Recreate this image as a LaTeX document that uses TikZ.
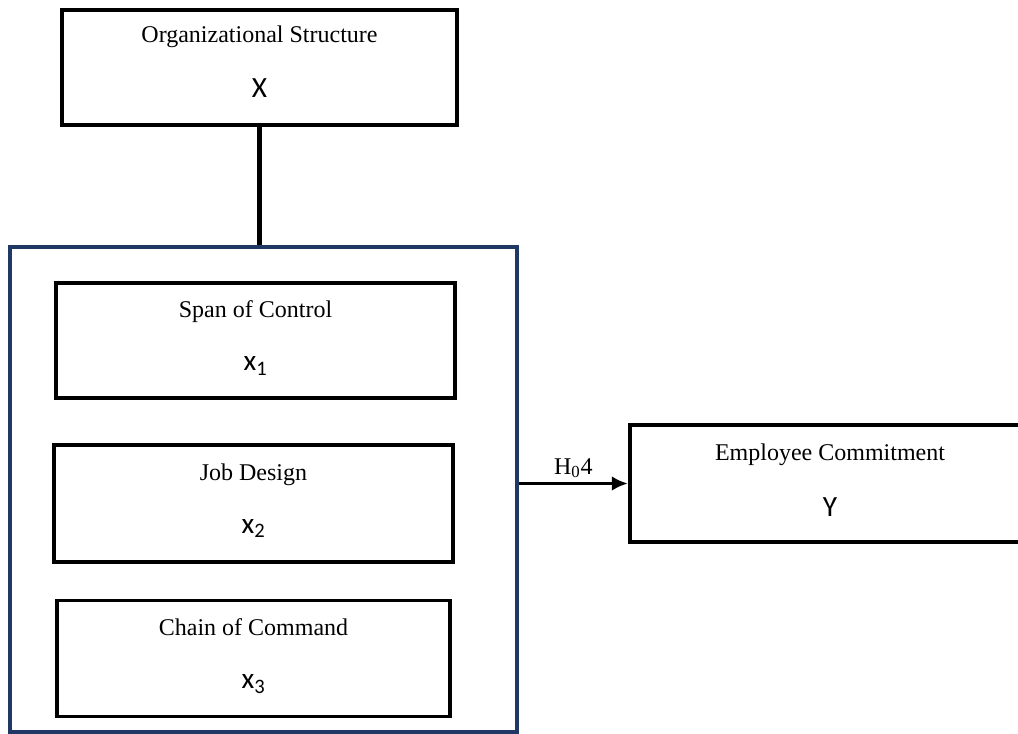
\documentclass[tikz,border=0pt]{standalone}
\usepackage{fontspec}
\setmainfont{Liberation Serif}
\newfontfamily\varfont{Carlito}
\usetikzlibrary{arrows.meta}
\definecolor{framenavy}{HTML}{1F3864}

\newcommand{\varname}[1]{{\varfont\fontsize{22}{24}\selectfont #1}}

\begin{document}
\begin{tikzpicture}[
		x=0.75pt, y=-0.75pt,
		box/.style={draw, line width=2.5pt, align=center, inner sep=0pt,
			text depth=7pt, font=\fontsize{18}{22}\selectfont},
		mainbox/.style={box, line width=3.2pt},
		groupbox/.style={draw=framenavy, line width=2.6pt, inner sep=0pt},
		link/.style={line width=3.2pt},
		arrowline/.style={line width=2.6pt, -{Latex[length=12pt,width=11pt]}}
	]
	\useasboundingbox (0,0) rectangle (1018,733);
	\clip (0,0) rectangle (1018,733);

	% outer frame around the three dimensions
	\node[groupbox, minimum width=380.25pt, minimum height=363.75pt] (group) at (263.5,489.5) {};

	\node[mainbox, text depth=9pt, minimum width=296.25pt, minimum height=86.25pt] (org) at (259.5,67.5)
		{Organizational Structure\\[19.5pt]\varname{X}};
	\node[box, minimum width=299.25pt, minimum height=86.25pt] (span) at (255.5,340.5)
		{Span of Control\\[18pt]\varname{x\textsubscript{1}}};
	\node[box, minimum width=299.25pt, minimum height=87.75pt] (job) at (253.5,503.5)
		{Job Design\\[18pt]\varname{x\textsubscript{2}}};
	\node[box, minimum width=294.75pt, minimum height=87pt] (chain) at (253.5,658.5)
		{Chain of Command\\[18pt]\varname{x\textsubscript{3}}};
	\node[mainbox, text depth=5pt, minimum width=300pt, minimum height=87.75pt] (ec) at (830,483.5)
		{Employee Commitment\\[19.5pt]\varname{Y}};

	\draw[link] (org.south) -- (org.south |- group.north);
	\draw[arrowline] (group.east |- ec.west) --
		node[above, inner sep=3pt, font=\fontsize{18}{22}\selectfont] (h4) {H\textsubscript{0}4} (ec.west);

\end{tikzpicture}
\end{document}
